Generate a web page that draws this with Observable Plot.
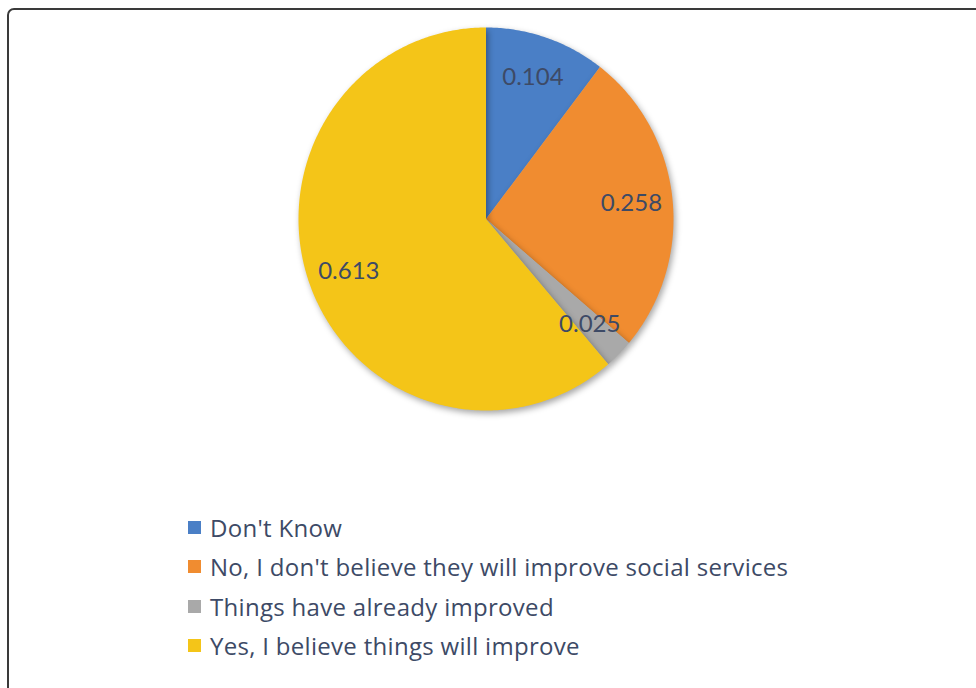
<!DOCTYPE html>
<html>
<head>
<meta charset="utf-8">
<script src="https://cdn.jsdelivr.net/npm/d3@7"></script>
<script src="https://cdn.jsdelivr.net/npm/@observablehq/plot@0.6"></script>
<style>
  html, body { margin: 0; padding: 0; background: #fff; width: 976px; height: 688px; overflow: hidden; }
  #frame { position: absolute; left: 7px; top: 8px; width: 1000px; height: 720px; border: 2px solid #3a3a3a; border-radius: 7px; box-sizing: border-box; }
  #chart { position: absolute; left: 0; top: 0; }
  #chart svg .slices { filter: drop-shadow(2px 3px 3px rgba(0,0,0,0.35)); }
  #legend { position: absolute; left: 188px; top: 508px; font-family: "Open Sans", Lato, sans-serif; font-size: 24px; letter-spacing: 0.3px; color: #3d4a66; }
  #legend .row { display: flex; align-items: center; height: 39.3px; }
  #legend .sw { width: 13px; height: 13px; margin-right: 9px; flex: none; }
</style>
</head>
<body>
<div id="frame"></div>
<div id="chart"></div>
<div id="legend"></div>
<script>
const categories = [
  "Don't Know",
  "No, I don't believe they will improve social services",
  "Things have already improved",
  "Yes, I believe things will improve"
];
const values = [0.104, 0.258, 0.025, 0.613];
const labels = ["0.104", "0.258", "0.025", "0.613"];
const colors = ["#4a7fc6", "#f08c30", "#a9a9a9", "#f4c518"];

const pie = d3.pie().sort(null).value(d => d)(values);
const slices = pie.map((p, i) => {
  const n = Math.max(2, Math.ceil((p.endAngle - p.startAngle) / 0.01));
  const pts = [{x: 0, y: 0}];
  for (let k = 0; k <= n; k++) {
    const a = p.startAngle + (p.endAngle - p.startAngle) * k / n;
    pts.push({x: Math.sin(a), y: Math.cos(a)});
  }
  pts.push({x: 0, y: 0});
  return pts;
});
const labelData = pie.map((p, i) => {
  const a = (p.startAngle + p.endAngle) / 2;
  const r = 0.78;
  return {x: r * Math.sin(a), y: r * Math.cos(a), text: labels[i]};
});

const W = 976, H = 460;
const marks = slices.map((pts, i) =>
  Plot.line(pts, {x: "x", y: "y", fill: colors[i], stroke: "none", curve: "linear", className: "slices"})
);
marks.push(Plot.text(labelData, {x: "x", y: "y", text: "text", fill: "#3d4a66", fontSize: 24, fontFamily: "Lato, 'Open Sans', sans-serif"}));

const plot = Plot.plot({
  width: W,
  height: H,
  marginLeft: 298,
  marginRight: W - 673,
  marginTop: 27,
  marginBottom: H - 410,
  x: {domain: [-1, 1], axis: null},
  y: {domain: [-1, 1], axis: null},
  style: {background: "transparent", overflow: "visible"},
  marks
});
document.getElementById("chart").appendChild(plot);

const legend = document.getElementById("legend");
categories.forEach((c, i) => {
  const row = document.createElement("div");
  row.className = "row";
  const sw = document.createElement("span");
  sw.className = "sw";
  sw.style.background = colors[i];
  const t = document.createElement("span");
  t.textContent = c;
  row.appendChild(sw);
  row.appendChild(t);
  legend.appendChild(row);
});
</script>
</body>
</html>
